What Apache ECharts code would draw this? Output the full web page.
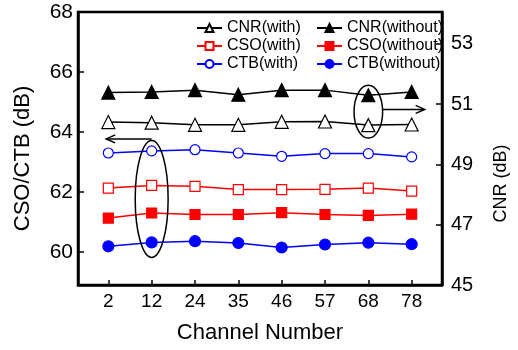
<!DOCTYPE html>
<html><head><meta charset="utf-8">
<script src="https://cdn.jsdelivr.net/npm/echarts@6/dist/echarts.min.js"></script>
<style>html,body{margin:0;padding:0;background:#fff}#c{width:518px;height:350px}</style>
</head><body><div id="c"></div>
<script>
const channels = ['2','12','24','35','46','57','68','78'];
const leftTicks = [60, 62, 64, 66, 68];
const rightTicks = [45, 47, 49, 51, 53];
const cnrWith    = [50.40, 50.38, 50.31, 50.31, 50.41, 50.42, 50.30, 50.32];
const cnrWithout = [51.38, 51.40, 51.46, 51.31, 51.46, 51.46, 51.29, 51.40];
const csoWith    = [62.13, 62.22, 62.19, 62.08, 62.08, 62.09, 62.13, 62.03];
const csoWithout = [61.13, 61.30, 61.25, 61.25, 61.31, 61.25, 61.22, 61.26];
const ctbWith    = [63.30, 63.37, 63.41, 63.30, 63.19, 63.28, 63.28, 63.17];
const ctbWithout = [60.19, 60.32, 60.36, 60.30, 60.15, 60.25, 60.31, 60.26];

const idx = channels.map((c, i) => i);
const FONT = 'Liberation Sans, Arial, sans-serif';
const toPairs = arr => arr.map((v, i) => [i, v]);

function mk(name, data, yAxisIndex, symbol, size, color, filled) {
  return {
    name, type: 'line', yAxisIndex, data: toPairs(data),
    symbol, symbolSize: size, showAllSymbol: true,
    lineStyle: { color: color, width: 1.5 },
    itemStyle: { color: filled ? color : '#fff', borderColor: color, borderWidth: 1.2, opacity: 1 },
    emphasis: { disabled: true },
    animation: false
  };
}

const chart = echarts.init(document.getElementById('c'));
const axisLine = { show: true, onZero: false, lineStyle: { color: '#000', width: 2.5 } };
const legendText = { fontSize: 16, fontFamily: FONT, color: '#000', lineHeight: 16 };
const option = {
  animation: false,
  backgroundColor: '#fff',
  textStyle: { fontFamily: FONT },
  grid: { left: 78, right: 66, top: 12, bottom: 65, show: true, borderColor: '#000', borderWidth: 2.5, containLabel: false },
  legend: [
    { data: ['CNR(with)', 'CSO(with)', 'CTB(with)'], orient: 'vertical', left: 196, top: 20, padding: 0, itemGap: 2,
      itemWidth: 25, itemHeight: 10, textStyle: legendText },
    { data: ['CNR(without)', 'CSO(without)', 'CTB(without)'], orient: 'vertical', left: 316, top: 20, padding: 0, itemGap: 2,
      itemWidth: 25, itemHeight: 10, textStyle: legendText }
  ],
  xAxis: {
    type: 'value', min: -0.7, max: 7.7,
    axisLine: axisLine,
    axisTick: { show: true, inside: true, length: 5, customValues: idx, lineStyle: { color: '#000', width: 1.5 } },
    axisLabel: { customValues: idx, formatter: v => channels[Math.round(v)], fontSize: 19, color: '#000', margin: 7, fontFamily: FONT },
    splitLine: { show: false },
    name: 'Channel Number', nameLocation: 'middle', nameGap: 37,
    nameTextStyle: { fontSize: 22, color: '#000', fontFamily: FONT }
  },
  yAxis: [
    {
      type: 'value', min: 58.9, max: 68, position: 'left',
      axisLine: axisLine,
      axisTick: { show: true, inside: true, length: 6, customValues: leftTicks, lineStyle: { color: '#000', width: 1.5 } },
      axisLabel: { customValues: leftTicks, fontSize: 21, color: '#000', margin: 5, fontFamily: FONT },
      splitLine: { show: false },
      name: 'CSO/CTB (dB)', nameLocation: 'middle', nameGap: 44, nameRotate: 90,
      nameTextStyle: { fontSize: 22, color: '#000', fontFamily: FONT, padding: [0, 20, 0, 0] }
    },
    {
      type: 'value', min: 45, max: 54.05, position: 'right',
      axisLine: axisLine,
      axisTick: { show: true, inside: true, length: 6, customValues: rightTicks, lineStyle: { color: '#000', width: 1.5 } },
      axisLabel: { customValues: rightTicks, fontSize: 20, color: '#000', margin: 9, fontFamily: FONT },
      splitLine: { show: false },
      name: 'CNR (dB)', nameLocation: 'middle', nameGap: 50, nameRotate: 90,
      nameTextStyle: { fontSize: 18, color: '#000', fontFamily: FONT, padding: [0, 70, 0, 0] }
    }
  ],
  series: [
    mk('CNR(with)', cnrWith, 1, 'triangle', 13, '#000', false),
    mk('CNR(without)', cnrWithout, 1, 'triangle', 13, '#000', true),
    mk('CSO(with)', csoWith, 0, 'rect', 10, '#ff0000', false),
    mk('CSO(without)', csoWithout, 0, 'rect', 10, '#ff0000', true),
    mk('CTB(with)', ctbWith, 0, 'circle', 10, '#0000ff', false),
    mk('CTB(without)', ctbWithout, 0, 'circle', 11, '#0000ff', true)
  ]
};
chart.setOption(option);

// annotations (ellipses + arrows) positioned through the axes
const pL = p => chart.convertToPixel({ xAxisIndex: 0, yAxisIndex: 0 }, p);
const pR = p => chart.convertToPixel({ xAxisIndex: 0, yAxisIndex: 1 }, p);
const e1 = pL([1, 61.77]);
const e1top = pL([1, 63.72]);
const e1side = pL([1.38, 61.77]);
const a1s = pL([1, 63.77]);
const a1e = pL([-0.05, 63.77]);
const e2 = pR([6, 50.745]);
const e2top = pR([6, 51.62]);
const e2side = pR([6.33, 50.745]);
const a2s = pR([6.33, 50.82]);
const a2e = pR([7.3, 50.82]);
const st = { stroke: '#000', lineWidth: 1.5, fill: null };
chart.setOption({
  graphic: [
    { type: 'ellipse', z: 100, shape: { cx: e1[0], cy: e1[1], rx: e1side[0] - e1[0], ry: e1[1] - e1top[1] }, style: st },
    { type: 'ellipse', z: 100, shape: { cx: e2[0], cy: e2[1], rx: e2side[0] - e2[0], ry: e2[1] - e2top[1] }, style: st },
    { type: 'line', z: 100, shape: { x1: a1s[0], y1: a1s[1], x2: a1e[0], y2: a1e[1] }, style: st },
    { type: 'polyline', z: 100, shape: { points: [[a1e[0] + 9, a1e[1] - 4], [a1e[0], a1e[1]], [a1e[0] + 9, a1e[1] + 4]] }, style: st },
    { type: 'line', z: 100, shape: { x1: a2s[0], y1: a2s[1], x2: a2e[0], y2: a2e[1] }, style: st },
    { type: 'polyline', z: 100, shape: { points: [[a2e[0] - 9, a2e[1] - 4], [a2e[0], a2e[1]], [a2e[0] - 9, a2e[1] + 4]] }, style: st }
  ]
});
</script>
</body></html>
